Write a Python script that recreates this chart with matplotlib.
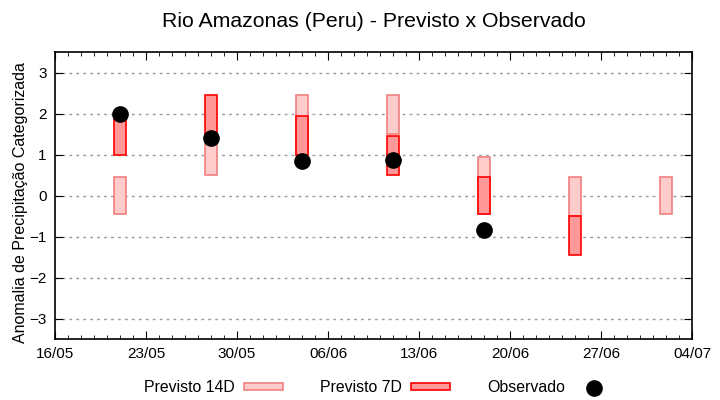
import matplotlib
matplotlib.use('Agg')
import matplotlib.pyplot as plt
import matplotlib.dates as mdates
import matplotlib.patches as mpatches
from matplotlib.lines import Line2D
import numpy as np
import datetime as dt

plt.rcParams['font.family'] = ['Liberation Sans', 'DejaVu Sans']

# forecast dates
dates = ['2023-05-21', '2023-05-28', '2023-06-04', '2023-06-11',
         '2023-06-18', '2023-06-25', '2023-07-02']

# category ranges of the forecasts
p14_low = [-0.45, 0.5, 1.0, 1.5, -0.45, -0.5, -0.45]
p14_high = [0.45, 1.45, 2.45, 2.45, 0.95, 0.45, 0.45]
p7_low = [1.0, 1.45, 1.0, 0.5, -0.45, -1.45, np.nan]
p7_high = [1.95, 2.45, 1.95, 1.45, 0.45, -0.5, np.nan]

# observed anomaly
observado = [2.0, 1.41, 0.85, 0.87, -0.84, np.nan, np.nan]

x = mdates.date2num([dt.datetime.strptime(d, '%Y-%m-%d') for d in dates])
p14_low = np.array(p14_low)
p14_high = np.array(p14_high)
p7_low = np.array(p7_low)
p7_high = np.array(p7_high)

fig = plt.figure(figsize=(7.2, 4), dpi=100)
ax = fig.add_axes([55 / 720, 61 / 400, 637 / 720, 287 / 400])

w = 0.9
ax.bar(x, p14_high - p14_low, bottom=p14_low, width=w,
       color='#ffcccc', edgecolor='#f08080', linewidth=1.2, zorder=2)
ax.bar(x, p7_high - p7_low, bottom=p7_low, width=w,
       color='#ff9999', edgecolor='#ff0000', linewidth=1.2, zorder=3)
ax.plot(x, observado, 'o', color='black', markersize=11, zorder=4)

start = dt.datetime(2023, 5, 16)
ax.set_xlim(mdates.date2num(start), mdates.date2num(dt.datetime(2023, 7, 4)))
ax.set_ylim(-3.5, 3.5)
ax.set_yticks([-3, -2, -1, 0, 1, 2, 3])
ticks = [mdates.date2num(start + dt.timedelta(days=7 * i)) for i in range(8)]
ax.set_xticks(ticks)
ax.xaxis.set_major_formatter(mdates.DateFormatter('%d/%m'))
ax.xaxis.set_minor_locator(mdates.DayLocator())

ax.tick_params(which='both', direction='in', top=True, right=True, labelsize=11, pad=6)
ax.tick_params(which='major', length=6)
ax.tick_params(which='minor', length=3)
ax.grid(axis='y', linestyle=(0, (2, 3)), color='#999999', linewidth=1)
ax.set_axisbelow(True)
for s in ax.spines.values():
    s.set_linewidth(1.2)

ax.set_ylabel('Anomalia de Precipitação Categorizada', fontsize=11.5)
ax.yaxis.set_label_coords(-0.042, 0.475)
fig.suptitle('Rio Amazonas (Peru) - Previsto x Observado', fontsize=15.3, x=0.519, y=0.97)

handles = [
    mpatches.Patch(facecolor='#ffcccc', edgecolor='#f08080', linewidth=1.2),
    mpatches.Patch(facecolor='#ff9999', edgecolor='#ff0000', linewidth=1.2),
    Line2D([], [], marker='o', color='black', linestyle='none', markersize=11),
]
fig.legend(handles, ['Previsto 14D', 'Previsto 7D', 'Observado'], loc='lower center',
           bbox_to_anchor=(0.526, -0.024), ncol=3, frameon=False, markerfirst=False,
           fontsize=11.4, handlelength=2.5, handleheight=0.35, columnspacing=2.3,
           handletextpad=0.57)

fig.savefig('out.png', dpi=100)
